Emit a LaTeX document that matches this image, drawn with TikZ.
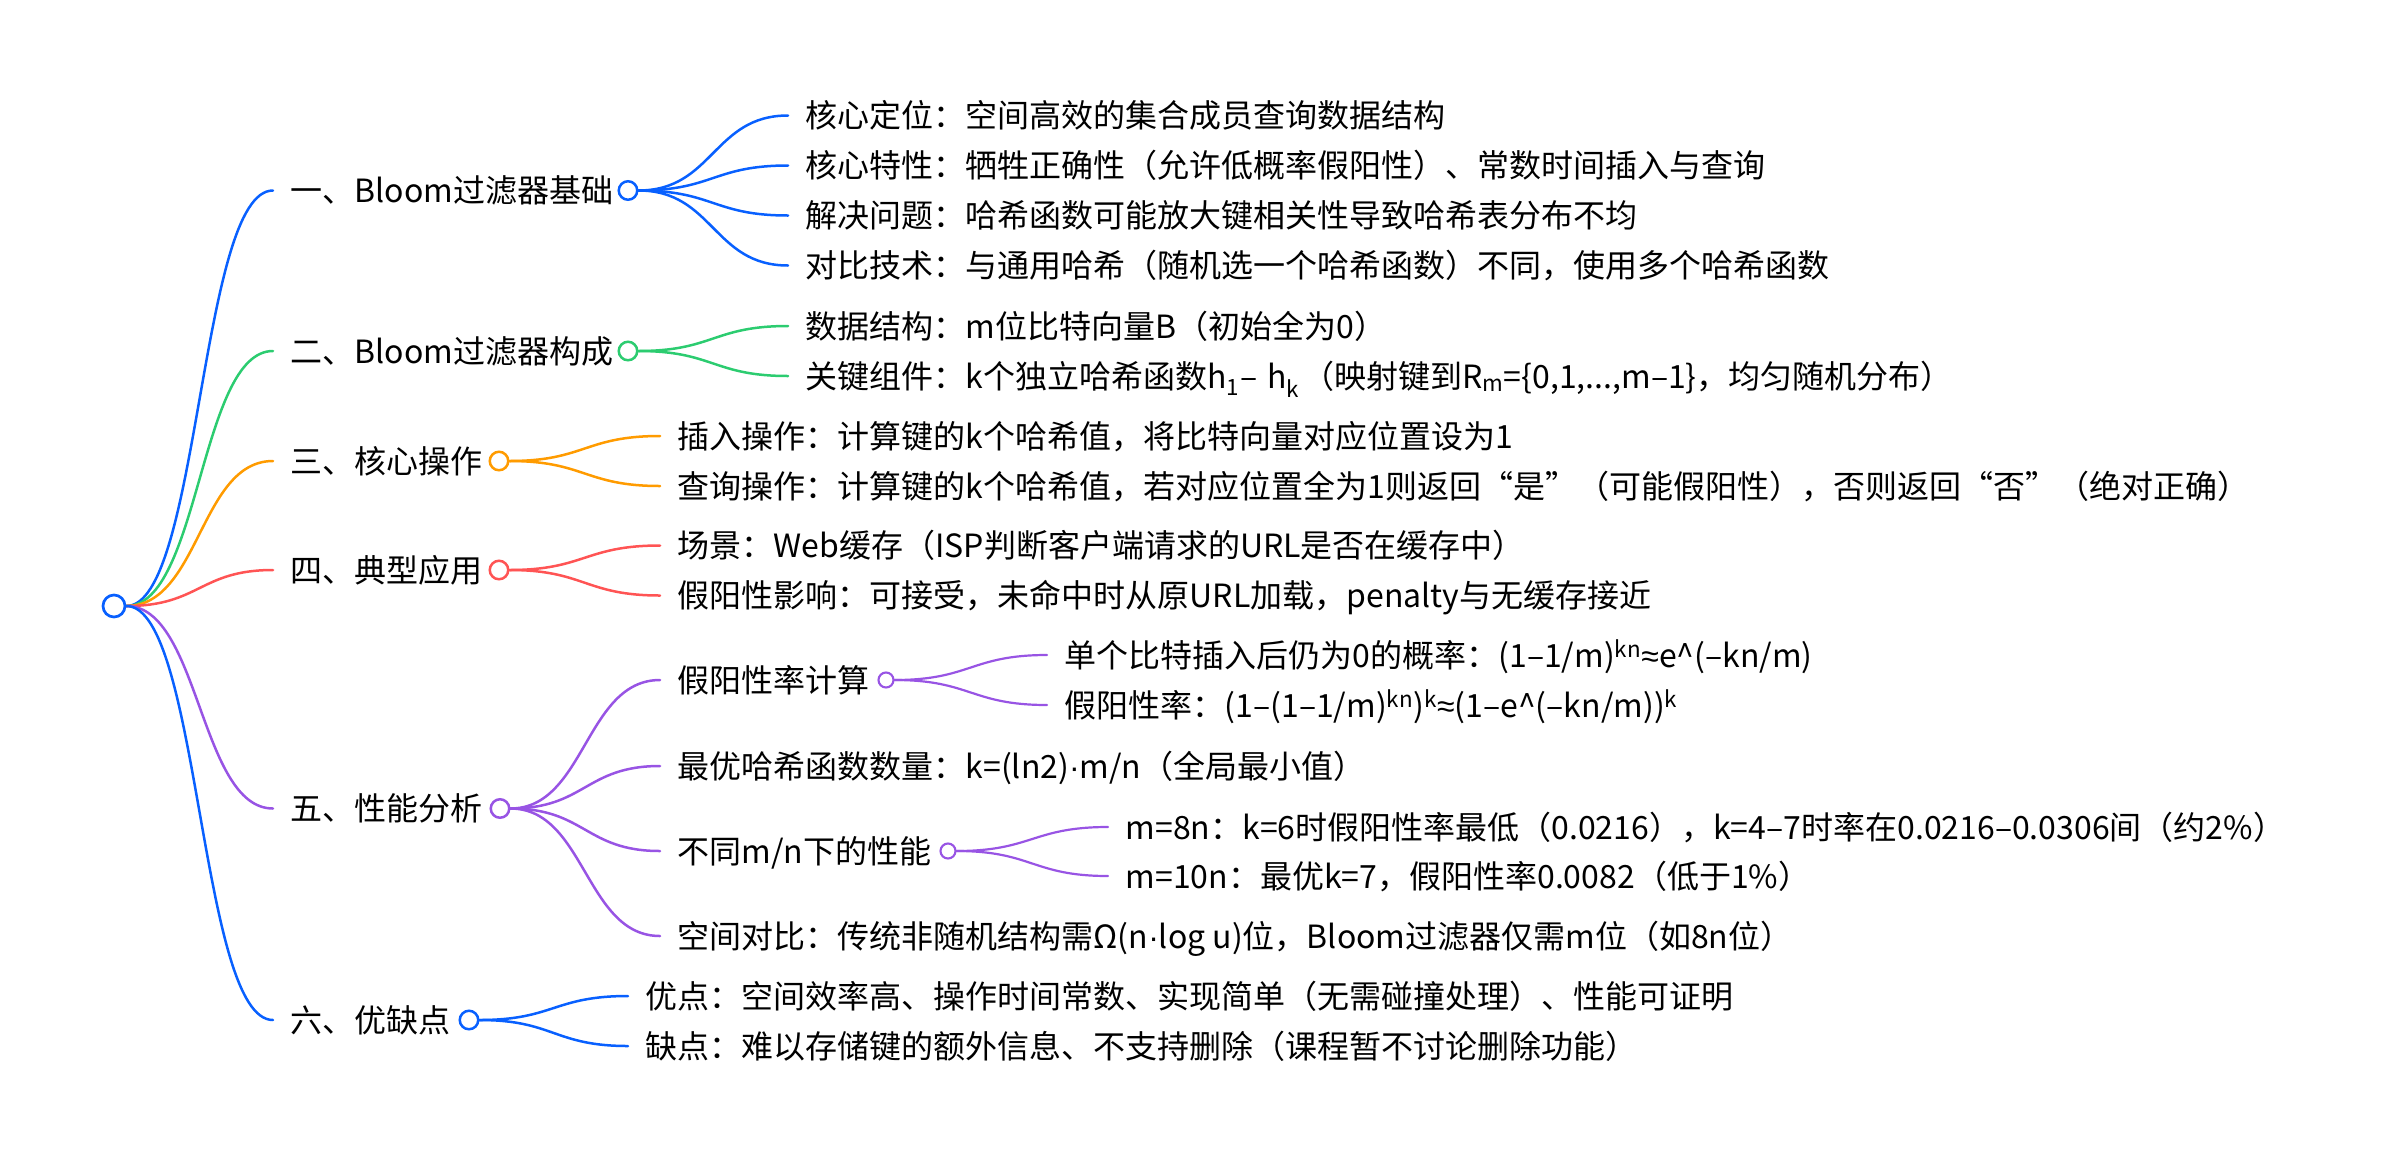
\documentclass[tikz,border=0pt]{standalone}
\usepackage{fontspec}
\setmainfont{Noto Sans CJK SC}
\newfontfamily\latf{Liberation Sans}
\usetikzlibrary{calc}
\definecolor{mblue}{RGB}{8,96,255}
\definecolor{mgreen}{RGB}{44,204,112}
\definecolor{morange}{RGB}{255,155,0}
\definecolor{mred}{RGB}{255,84,84}
\definecolor{mpurple}{RGB}{152,84,228}
\newcommand\mmlink[3]{\draw[#1] let \p1=(#2), \p2=(#3) in (\p1) .. controls ({(\x1+\x2)/2},\y1) and ({(\x1+\x2)/2},\y2) .. (\p2);}
\newcommand\qopen{\makebox[1em][r]{“}}
\newcommand\qclose{\makebox[1em][l]{”}}
\newcommand\mdot{{\latf ·}}
\newcommand\approxs{{\latf ≈}}
\begin{document}
\begin{tikzpicture}[x=1pt,y=-1pt,
  txt/.style={anchor=west, inner xsep=17.5pt, inner ysep=0pt, text height=30pt, text depth=6pt, font=\fontsize{32}{38}\selectfont, text=black},
  rootdot/.style={circle, draw=mblue, fill=white, line width=2.7pt, minimum size=22pt, inner sep=0pt},
  dot/.style={circle, draw=#1, fill=white, line width=2.5pt, minimum size=18.5pt, inner sep=0pt},
  sdot/.style={circle, draw=#1, fill=white, line width=2.1pt, minimum size=15pt, inner sep=0pt},
  lk/.style={draw=#1, line width=2.5pt, line cap=round},
  slk/.style={draw=#1, line width=2.2pt, line cap=round}]
\useasboundingbox (0,0) rectangle (2400,1162);
% level 1 text
\node[txt] (n1) at (273,190.5) {一、Bloom过滤器基础};
\node[txt] (n2) at (273,351) {二、Bloom过滤器构成};
\node[txt] (n3) at (273,461) {三、核心操作};
\node[txt] (n4) at (273,570) {四、典型应用};
\node[txt] (n5) at (273,808.5) {五、性能分析};
\node[txt] (n6) at (273,1020) {六、优缺点};
% level 2 text
\node[txt] (a1) at (788,115.5) {核心定位：空间高效的集合成员查询数据结构};
\node[txt] (a2) at (788,165.5) {核心特性：牺牲正确性（允许低概率假阳性）、常数时间插入与查询};
\node[txt] (a3) at (788,215.5) {解决问题：哈希函数可能放大键相关性导致哈希表分布不均};
\node[txt] (a4) at (788,265.5) {对比技术：与通用哈希（随机选一个哈希函数）不同，使用多个哈希函数};
\node[txt] (b1) at (788,326) {数据结构：m位比特向量B（初始全为0）};
\node[txt] (b2) at (788,376) {关键组件：k个独立哈希函数h\textsubscript{1}\kern1pt–\kern2pt\ h\textsubscript{k}\kern3pt（映射键到R\textsubscript{m}=\{0,1,...,m–1\}，均匀随机分布）};
\node[txt] (c1) at (660,436) {插入操作：计算键的k个哈希值，将比特向量对应位置设为1};
\node[txt] (c2) at (660,486) {查询操作：计算键的k个哈希值，若对应位置全为1则返回\qopen 是\qclose（可能假阳性），否则返回\qopen 否\qclose（绝对正确）};
\node[txt] (d1) at (660,545.5) {场景：Web缓存（ISP判断客户端请求的URL是否在缓存中）};
\node[txt] (d2) at (660,595.5) {假阳性影响：可接受，未命中时从原URL加载，penalty与无缓存接近};
\node[txt] (e1) at (660,680) {假阳性率计算};
\node[txt] (e2) at (660,766) {最优哈希函数数量：k=(ln2)\mdot m/n（全局最小值）};
\node[txt] (e3) at (660,851) {不同m/n下的性能};
\node[txt] (e4) at (660,936) {空间对比：传统非随机结构需Ω(n\mdot log u)位，Bloom过滤器仅需m位（如8n位）};
\node[txt] (f1) at (628,996) {优点：空间效率高、操作时间常数、实现简单（无需碰撞处理）、性能可证明};
\node[txt] (f2) at (628,1046) {缺点：难以存储键的额外信息、不支持删除（课程暂不讨论删除功能）};
% level 3 text
\node[txt] (g1) at (1047,655) {单个比特插入后仍为0的概率：(1–1/m)\textsuperscript{kn}\approxs e\textasciicircum(–kn/m)};
\node[txt] (g2) at (1047,705) {假阳性率：(1–(1–1/m)\textsuperscript{kn})\textsuperscript{k}\approxs(1–e\textasciicircum(–kn/m))\textsuperscript{k}};
\node[txt] (h1) at (1108,827) {m=8n：k=6时假阳性率最低（0.0216），k=4–7时率在0.0216–0.0306间（约2\%）};
\node[txt] (h2) at (1108,876) {m=10n：最优k=7，假阳性率0.0082（低于1\%）};
% circle positions
\coordinate (proot) at (114,606);
\coordinate (p1) at (628,190.5);
\coordinate (p2) at (628,351);
\coordinate (p3) at (499,461);
\coordinate (p4) at (499,570);
\coordinate (p5) at (500,808.5);
\coordinate (p6) at (469,1020);
\coordinate (q1) at (886,680);
\coordinate (q3) at (948,851);
% links root -> level 1
\mmlink{lk=mblue}{$(proot)+(12.4,0)$}{n1.west}
\mmlink{lk=mgreen}{$(proot)+(12.4,0)$}{n2.west}
\mmlink{lk=morange}{$(proot)+(12.4,0)$}{n3.west}
\mmlink{lk=mred}{$(proot)+(12.4,0)$}{n4.west}
\mmlink{lk=mpurple}{$(proot)+(12.4,0)$}{n5.west}
\mmlink{lk=mblue}{$(proot)+(12.4,0)$}{n6.west}
% level 1 -> level 2
\foreach \t in {a1,a2,a3,a4}{\mmlink{lk=mblue}{$(p1)+(10.5,0)$}{\t.west}}
\foreach \t in {b1,b2}{\mmlink{lk=mgreen}{$(p2)+(10.5,0)$}{\t.west}}
\foreach \t in {c1,c2}{\mmlink{lk=morange}{$(p3)+(10.5,0)$}{\t.west}}
\foreach \t in {d1,d2}{\mmlink{lk=mred}{$(p4)+(10.5,0)$}{\t.west}}
\foreach \t in {e1,e2,e3,e4}{\mmlink{lk=mpurple}{$(p5)+(10.5,0)$}{\t.west}}
\foreach \t in {f1,f2}{\mmlink{lk=mblue}{$(p6)+(10.5,0)$}{\t.west}}
% level 2 -> level 3
\foreach \t in {g1,g2}{\mmlink{slk=mpurple}{$(q1)+(8.5,0)$}{\t.west}}
\foreach \t in {h1,h2}{\mmlink{slk=mpurple}{$(q3)+(8.5,0)$}{\t.west}}
% circles on top
\node[rootdot] (root) at (proot) {};
\node[dot=mblue] (k1) at (p1) {};
\node[dot=mgreen] (k2) at (p2) {};
\node[dot=morange] (k3) at (p3) {};
\node[dot=mred] (k4) at (p4) {};
\node[dot=mpurple] (k5) at (p5) {};
\node[dot=mblue] (k6) at (p6) {};
\node[sdot=mpurple] (m1) at (q1) {};
\node[sdot=mpurple] (m3) at (q3) {};
\end{tikzpicture}
\end{document}
